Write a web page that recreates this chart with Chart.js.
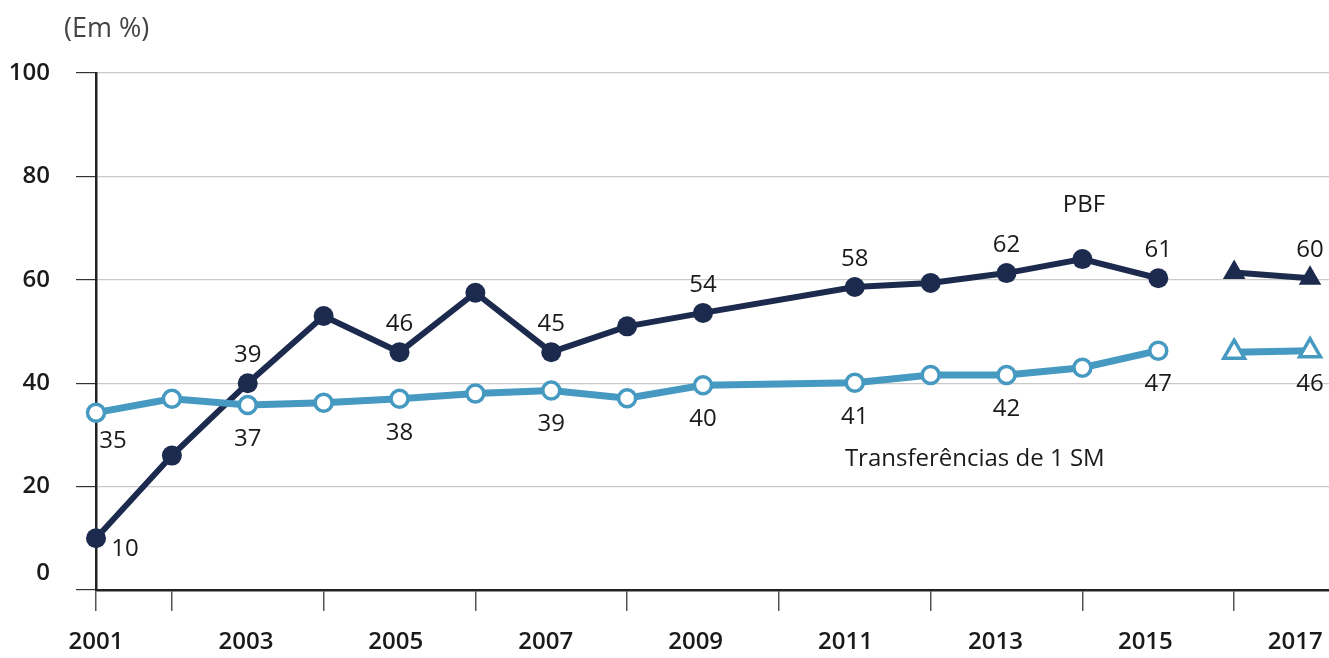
<!DOCTYPE html>
<html>
<head>
<meta charset="utf-8">
<script src="https://cdn.jsdelivr.net/npm/chart.js@4"></script>
<style>
  html, body { margin: 0; padding: 0; background: #fff; }
  #wrap { width: 1329px; height: 658px; position: relative; }
</style>
</head>
<body>
<div id="wrap"><canvas id="chart"></canvas></div>
<script>
// PNAD anual (no 2010 survey)
const years = [2001, 2002, 2003, 2004, 2005, 2006, 2007, 2008, 2009, 2011, 2012, 2013, 2014, 2015];
const pbf = [10, 26, 40, 53, 46, 57.5, 46, 51, 53.6, 58.6, 59.4, 61.3, 64, 60.3];
const sm = [34.3, 37, 35.8, 36.2, 37, 38, 38.6, 37.1, 39.6, 40.1, 41.6, 41.6, 43, 46.3];
const pbfLabels = ['10', null, '39', null, '46', null, '45', null, '54', '58', null, '62', null, '61'];
const smLabels = ['35', null, '37', null, '38', null, '39', null, '40', '41', null, '42', null, '47'];

// PNAD Contínua
const contYears = [2016, 2017];
const pbfCont = [61.4, 60.3];
const smCont = [46, 46.3];
const pbfContLabels = [null, '60'];
const smContLabels = [null, '46'];

const yTicks = [0, 20, 40, 60, 80, 100];
const xLabelYears = [2001, 2003, 2005, 2007, 2009, 2011, 2013, 2015, 2017];

const DARK = '#1c2a4e';
const LIGHT = '#4699c1';
const TEXT = '#1a1a1a';
const FONT = '"Open Sans", "Noto Sans", sans-serif';

const toXY = (xs, ys) => xs.map((x, i) => ({ x, y: ys[i] }));

const labelsPlugin = {
  id: 'pointLabels',
  afterDatasetsDraw(chart) {
    const { ctx } = chart;
    ctx.save();
    ctx.font = `500 24px ${FONT}`;
    ctx.fillStyle = TEXT;
    ctx.textAlign = 'center';
    ctx.textBaseline = 'middle';
    chart.data.datasets.forEach((ds, di) => {
      const meta = chart.getDatasetMeta(di);
      (ds.pointLabels || []).forEach((txt, i) => {
        if (!txt) return;
        const pt = meta.data[i];
        let dx = 0, dy = ds.labelSide === 'above' ? -28 : 34;
        if (ds.firstRight && i === 0) {
          dx = ds.labelSide === 'above' ? 29 : 17;
          dy = ds.labelSide === 'above' ? 11 : 28;
        }
        ctx.fillText(txt, pt.x + dx, pt.y + dy);
      });
    });

    const x = chart.scales.x, y = chart.scales.y;
    ctx.fillText('PBF', x.getPixelForValue(2014.02), y.getPixelForValue(74.5));
    ctx.textAlign = 'left';
    ctx.fillText('Transferências de 1 SM', x.getPixelForValue(2010.87), y.getPixelForValue(25.3));

    // zero label sits a little above the axis line
    ctx.font = `600 24px ${FONT}`;
    ctx.textAlign = 'right';
    ctx.fillText('0', chart.chartArea.left - 46, y.getPixelForValue(0) - 17);

    ctx.font = `500 27px ${FONT}`;
    ctx.fillStyle = '#444';
    ctx.textAlign = 'left';
    ctx.fillText('(Em %)', 64, 29);
    ctx.restore();
  }
};

new Chart(document.getElementById('chart'), {
  type: 'line',
  data: {
    datasets: [
      {
        label: 'Transferências de 1 SM',
        data: toXY(years, sm),
        pointLabels: smLabels, labelSide: 'below', firstRight: true,
        borderColor: LIGHT, borderWidth: 7,
        pointRadius: 8.5, pointBorderWidth: 3.5,
        pointBackgroundColor: '#fff', pointBorderColor: LIGHT,
        clip: false,
      },
      {
        label: 'Transferências de 1 SM (PNAD Contínua)',
        data: toXY(contYears, smCont),
        pointLabels: smContLabels, labelSide: 'below',
        borderColor: LIGHT, borderWidth: 7,
        pointStyle: 'triangle', pointRadius: 12, pointBorderWidth: 3.5,
        pointBackgroundColor: '#fff', pointBorderColor: LIGHT,
        clip: false,
      },
      {
        label: 'PBF',
        data: toXY(years, pbf),
        pointLabels: pbfLabels, labelSide: 'above', firstRight: true,
        borderColor: DARK, borderWidth: 6,
        pointRadius: 10, pointBorderWidth: 0,
        pointBackgroundColor: DARK, pointBorderColor: DARK,
        clip: false,
      },
      {
        label: 'PBF (PNAD Contínua)',
        data: toXY(contYears, pbfCont),
        pointLabels: pbfContLabels, labelSide: 'above',
        borderColor: DARK, borderWidth: 6,
        pointStyle: 'triangle', pointRadius: 13, pointBorderWidth: 0,
        pointBackgroundColor: DARK, pointBorderColor: DARK,
        clip: false,
      },
    ],
  },
  options: {
    responsive: true,
    maintainAspectRatio: false,
    animation: false,
    layout: { autoPadding: false, padding: { top: 73, right: 0, bottom: 0, left: 0 } },
    plugins: { legend: { display: false }, tooltip: { enabled: false } },
    elements: { line: { tension: 0 } },
    scales: {
      x: {
        type: 'linear',
        position: 'bottom',
        weight: 1,
        min: 2001,
        max: 2017.25,
        afterBuildTicks: (s) => { s.ticks = [2001, 2002, 2004, 2006, 2008, 2010, 2012, 2014, 2016].map((v) => ({ value: v })); },
        afterFit: (s) => { s.height = 21; s.paddingLeft = 0; s.paddingRight = 0; },
        ticks: { display: false },
        grid: { drawOnChartArea: false, drawTicks: true, tickLength: 21, tickColor: '#555', lineWidth: 1.5 },
        border: { color: '#222', width: 2.5 },
      },
      x2: {
        type: 'linear',
        position: 'bottom',
        weight: 2,
        min: 2001,
        max: 2017.45,
        afterBuildTicks: (s) => { s.ticks = xLabelYears.map((v) => ({ value: v })); },
        afterFit: (s) => { s.height = 47; s.paddingLeft = 0; s.paddingRight = 0; },
        ticks: {
          autoSkip: false, maxRotation: 0, padding: 17,
          color: TEXT, font: { family: FONT, size: 24, weight: '600' },
          callback: (v) => String(v),
        },
        grid: { display: false, drawTicks: false },
        border: { display: false },
      },
      y: {
        min: 0,
        max: 100,
        afterBuildTicks: (s) => { s.ticks = yTicks.map((v) => ({ value: v })); },
        afterFit: (s) => { s.width = 96; },
        ticks: {
          padding: 26, color: TEXT,
          font: { family: FONT, size: 24, weight: '600' },
          callback: (v) => (v === 0 ? '' : String(v)),
        },
        grid: { color: '#c9c9c9', lineWidth: 1.2, tickLength: 20, tickColor: '#333' },
        border: { color: '#222', width: 2.5 },
      },
    },
  },
  plugins: [labelsPlugin],
});
</script>
</body>
</html>
